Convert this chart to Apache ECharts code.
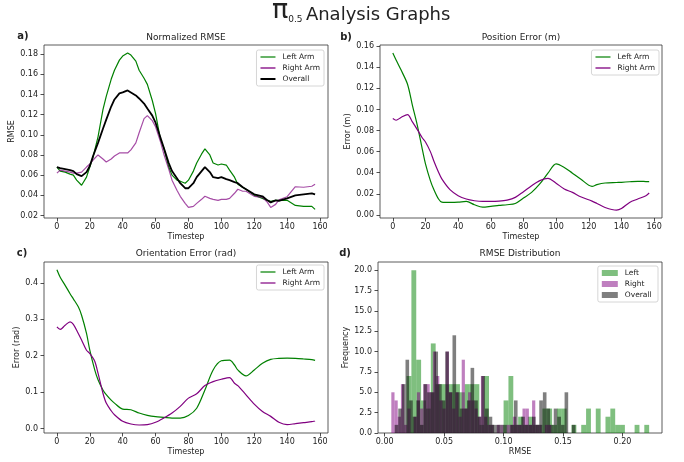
<!DOCTYPE html>
<html>
<head>
<meta charset="utf-8">
<script src="https://cdn.jsdelivr.net/npm/echarts@6/dist/echarts.min.js"></script>
<style>
  html, body { margin: 0; padding: 0; background: #fff; }
  #main { width: 684px; height: 462px; }
</style>
</head>
<body>
<div id="main"></div>
<script>
// ---- data ----
// a) normalized RMSE
var rmseSteps = [0,2,5,8,10,12,15,18,20,22,25,28,30,33,35,38,40,43,45,48,50,53,55,58,60,63,65,68,70,73,75,78,80,83,85,88,90,93,95,98,100,103,105,108,110,113,115,120,125,128,130,133,135,140,145,150,155,157];
var rmseLeft = [.068,.064,.063,.061,.060,.055,.050,.058,.068,.078,.098,.125,.138,.155,.164,.174,.178,.181,.179,.173,.164,.156,.150,.134,.121,.095,.087,.068,.060,.055,.054,.052,.055,.064,.072,.081,.086,.080,.072,.070,.071,.070,.065,.058,.051,.048,.046,.040,.037,.035,.034,.035,.035,.035,.030,.029,.029,.026];
var rmseRight = [.062,.065,.064,.063,.062,.062,.063,.068,.071,.075,.080,.076,.073,.076,.079,.082,.082,.082,.085,.092,.102,.116,.119,.114,.108,.093,.081,.066,.055,.045,.039,.032,.028,.029,.032,.036,.039,.037,.036,.035,.036,.036,.037,.042,.046,.044,.044,.039,.038,.033,.028,.031,.0355,.0386,.0485,.048,.049,.051];
var rmseOverall = [.068,.067,.066,.065,.064,.061,.059,.063,.069,.079,.092,.106,.115,.128,.135,.141,.142,.144,.142,.139,.136,.131,.126,.119,.112,.097,.087,.072,.064,.057,.052,.047,.047,.052,.058,.064,.068,.063,.058,.057,.058,.056,.055,.053,.052,.048,.046,.041,.039,.035,.033,.035,.0345,.037,.040,.041,.042,.041];

// b) position error (m)
var posSteps = [0,2,5,9,12,15,18,20,23,25,28,30,35,40,45,50,55,60,65,70,75,80,85,90,95,100,105,110,115,122,125,130,137,140,145,150,155,157];
var posLeft = [.1535,.147,.1376,.124,.104,.085,.0627,.0484,.0325,.0245,.015,.0121,.0118,.012,.0127,.0096,.0073,.008,.0089,.0096,.0108,.0159,.0213,.0293,.0395,.0484,.045,.0395,.034,.027,.0287,.0302,.0307,.0309,.0314,.0318,.0316,.0315];
var posRight = [.0914,.0898,.0924,.0952,.0882,.0809,.0732,.0691,.060,.0516,.0404,.0341,.0239,.0182,.015,.0134,.0127,.0127,.013,.014,.0166,.022,.0277,.0325,.0347,.030,.0245,.0213,.0172,.013,.0108,.007,.0045,.006,.0118,.015,.0182,.0207];

// c) orientation error (rad)
var oriSteps = [0,2,5,8,10,13,15,18,20,23,25,28,30,33,35,40,45,50,55,60,65,70,75,80,85,90,95,100,105,108,110,115,120,125,130,135,140,145,150,155,157];
var oriLeft = [.4355,.415,.393,.37,.356,.334,.311,.261,.215,.161,.134,.106,.093,.078,.07,.0536,.0518,.0427,.0364,.0327,.031,.029,.029,.036,.056,.106,.161,.186,.188,.1745,.161,.1445,.161,.179,.19,.1927,.1936,.1927,.191,.189,.187];
var oriRight = [.279,.272,.2836,.293,.286,.261,.243,.215,.206,.185,.152,.097,.07,.049,.038,.02,.0127,.01,.011,.0173,.029,.0427,.061,.0836,.0955,.118,.129,.1355,.14,.1245,.118,.0927,.0673,.047,.0336,.0173,.011,.0136,.0164,.019,.021];

// d) RMSE distribution, 50 bins each
var leftBinStart = 0.0184, leftBinWidth = 0.00408;
var leftCounts = [7,20,9,4,3,11,6,6,6,6, 6,5,6,6,6,1,7,1,0,1, 4,7,1,2,1,2,1,1,3,3, 1,3,3,0,1,0,1,3,0,3, 0,2,3,1,1,0,0,1,0,1];
var rightBinStart = 0.0056, rightBinWidth = 0.00269;
var rightCounts = [5,4,2,6,1,3,0,2,5,3, 6,6,5,10,7,4,3,10,5,3, 5,2,9,3,5,4,3,2,7,2, 1,1,0,1,1,0,1,1,2,1, 1,3,3,1,4,1,1,0,1,1];
var overallBinStart = 0.0084, overallBinWidth = 0.00304;
var overallCounts = [1,3,6,9,4,2,4,1,6,5, 5,10,6,4,10,5,12,5,3,3, 4,8,4,2,7,3,2,1,1,0, 1,0,1,4,1,2,1,1,2,1, 4,5,3,1,3,2,1,5,0,1];

// tick values
var stepTicks = [0,20,40,60,80,100,120,140,160];
var rmseTicks = [0.02,0.04,0.06,0.08,0.10,0.12,0.14,0.16,0.18];
var posTicks = [0,0.02,0.04,0.06,0.08,0.10,0.12,0.14,0.16];
var oriTicks = [0,0.1,0.2,0.3,0.4];
var histTicks = [0,0.05,0.10,0.15,0.20];
var freqTicks = [0,2.5,5,7.5,10,12.5,15,17.5,20];

// ---- chart ----
var FONT = 'DejaVu Sans';
var INK = '#222';
var GREEN = '#008000';
var PURPLE = '#800080';
var THIN = 'path://M0,0M0,8M0,3.4H15V4.6H0Z';
var THICK = 'path://M0,0M0,8M0,3H15V5H0Z';

function pairs(steps, vals) {
    return steps.map(function (t, i) { return [t, vals[i]]; });
}
function bins(start, width, counts) {
    return counts.map(function (c, i) { return [start + i * width, start + (i + 1) * width, c]; });
}

function axis(gi, min, max, ticks, digits, name, nameGap, isY) {
    return {
        type: 'value', gridIndex: gi, min: min, max: max,
        name: name, nameLocation: 'middle', nameGap: nameGap,
        nameTextStyle: { fontFamily: FONT, fontSize: 8, color: INK },
        axisLine: { show: false, onZero: false },
        splitLine: { show: false },
        axisTick: { customValues: ticks, length: 3.5, lineStyle: { color: INK, width: 0.8 } },
        axisLabel: {
            customValues: ticks,
            formatter: function (v) { return v.toFixed(digits); },
            fontFamily: FONT, fontSize: 8, color: INK,
            margin: isY ? 6 : 5
        }
    };
}

function line(name, gi, steps, vals, color, width, opacity, smooth) {
    return {
        type: 'line', name: name, xAxisIndex: gi, yAxisIndex: gi,
        data: pairs(steps, vals),
        symbol: 'none', showSymbol: false, smooth: smooth,
        lineStyle: { color: color, width: width, opacity: opacity },
        itemStyle: { color: color, opacity: opacity },
        silent: true
    };
}

function hist(name, start, width, counts, color) {
    return {
        type: 'custom', name: name, xAxisIndex: 3, yAxisIndex: 3,
        data: bins(start, width, counts),
        encode: { x: [0, 1], y: 2 },
        itemStyle: { color: color },
        renderItem: function (params, api) {
            if (!api.value(2)) return null;
            var p0 = api.coord([api.value(0), 0]);
            var p1 = api.coord([api.value(1), api.value(2)]);
            return {
                type: 'rect',
                shape: { x: p0[0], y: p1[1], width: p1[0] - p0[0], height: p0[1] - p1[1] },
                style: { fill: color }
            };
        }
    };
}

function legendBox(pos, items, iw, ih) {
    return Object.assign({
        orient: 'vertical', data: items,
        itemWidth: iw, itemHeight: ih, itemGap: 3,
        padding: [3, 4, 3, 4],
        borderColor: '#cccccc', borderWidth: 0.8, borderRadius: 2,
        backgroundColor: 'rgba(255,255,255,0.8)',
        textStyle: { fontFamily: FONT, fontSize: 7.5, color: INK, padding: [0, 0, 0, 2] },
        selectedMode: false
    }, pos);
}

function key(name, icon, color) {
    return { name: name, icon: icon, itemStyle: { color: color, opacity: 1 } };
}

function txt(x, y, s, size, weight) {
    return {
        type: 'text', x: x, y: y,
        style: { text: s, font: (weight || 'normal') + ' ' + size + 'px "DejaVu Sans"', fill: INK, align: 'center', verticalAlign: 'middle' }
    };
}

var chart = echarts.init(document.getElementById('main'));
chart.setOption({
    animation: false,
    backgroundColor: '#fff',
    textStyle: { fontFamily: FONT },
    grid: [
        { left: 44, top: 45, width: 284, height: 173 },
        { left: 380, top: 45, width: 282, height: 173 },
        { left: 44, top: 262, width: 284, height: 171 },
        { left: 378, top: 262, width: 284, height: 171 }
    ].map(function (g) {
        return Object.assign({ show: true, borderColor: '#333', borderWidth: 0.8, containLabel: false }, g);
    }),
    xAxis: [
        axis(0, -7.85, 164.85, stepTicks, 0, 'Timestep', 14.5, false),
        axis(1, -7.85, 164.85, stepTicks, 0, 'Timestep', 14.5, false),
        axis(2, -7.85, 164.85, stepTicks, 0, 'Timestep', 14.5, false),
        axis(3, -0.0056, 0.2332, histTicks, 2, 'RMSE', 14.5, false)
    ],
    yAxis: [
        axis(0, 0.0175, 0.189, rmseTicks, 2, 'RMSE', 26, true),
        axis(1, -0.003, 0.1612, posTicks, 2, 'Error (m)', 28, true),
        axis(2, -0.012, 0.457, oriTicks, 1, 'Error (rad)', 22, true),
        axis(3, 0, 21, freqTicks, 1, 'Frequency', 25, true)
    ],
    legend: [
        legendBox({ right: 360, top: 50 }, [
            key('Left Arm', THIN, GREEN),
            key('Right Arm', THICK, 'rgba(128,0,128,0.65)'),
            key('Overall', THICK, '#000')
        ], 15, 8),
        legendBox({ right: 25, top: 50 }, [
            key('Left Arm', THIN, GREEN),
            key('Right Arm', THICK, 'rgba(128,0,128,0.65)')
        ], 15, 8),
        legendBox({ right: 360, top: 265 }, [
            key('Left Arm', THIN, GREEN),
            key('Right Arm', THIN, PURPLE)
        ], 15, 8),
        legendBox({ right: 26, top: 266 }, [
            key('Left', 'rect', 'rgba(0,128,0,0.5)'),
            key('Right', 'rect', 'rgba(128,0,128,0.5)'),
            key('Overall ', 'rect', 'rgba(0,0,0,0.5)')
        ], 16, 6)
    ],
    graphic: [
        {
            type: 'text', x: 272, y: 11,
            style: {
                text: '{pi|π}{sub|0.5} {t|Analysis Graphs}',
                rich: {
                    pi: { fontFamily: FONT, fontSize: 27, fill: INK, verticalAlign: 'bottom' },
                    sub: { fontFamily: FONT, fontSize: 9, fill: INK, verticalAlign: 'bottom' },
                    t: { fontFamily: FONT, fontSize: 18, fill: INK, verticalAlign: 'bottom' }
                },
                fill: INK, align: 'left', verticalAlign: 'middle'
            }
        },
        txt(23, 36, 'a)', 10, 'bold'),
        txt(346, 37, 'b)', 10, 'bold'),
        txt(22, 253, 'c)', 10, 'bold'),
        txt(345, 253, 'd)', 10, 'bold'),
        txt(186, 38, 'Normalized RMSE', 9),
        txt(521, 38, 'Position Error (m)', 9),
        txt(186, 254, 'Orientation Error (rad)', 9),
        txt(520, 254, 'RMSE Distribution', 9)
    ],
    series: [
        line('Left Arm', 0, rmseSteps, rmseLeft, GREEN, 1.2, 1, false),
        line('Right Arm', 0, rmseSteps, rmseRight, PURPLE, 1.2, 0.7, false),
        line('Overall', 0, rmseSteps, rmseOverall, '#000', 1.8, 1, false),
        line('Left Arm', 1, posSteps, posLeft, GREEN, 1.2, 1, 0.3),
        line('Right Arm', 1, posSteps, posRight, PURPLE, 1.2, 1, 0.3),
        line('Left Arm', 2, oriSteps, oriLeft, GREEN, 1.2, 1, 0.3),
        line('Right Arm', 2, oriSteps, oriRight, PURPLE, 1.2, 1, 0.3),
        hist('Left', leftBinStart, leftBinWidth, leftCounts, 'rgba(0,128,0,0.5)'),
        hist('Right', rightBinStart, rightBinWidth, rightCounts, 'rgba(128,0,128,0.5)'),
        hist('Overall ', overallBinStart, overallBinWidth, overallCounts, 'rgba(0,0,0,0.5)')
    ]
});
</script>
</body>
</html>
